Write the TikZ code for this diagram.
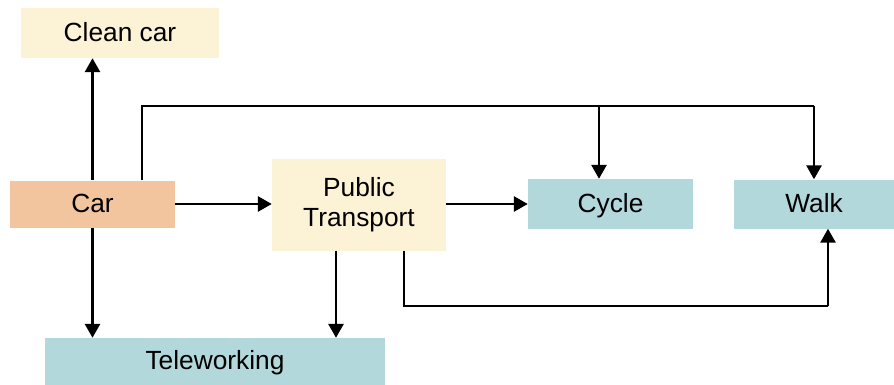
\documentclass[tikz,border=0pt]{standalone}
\usepackage{fontspec}
\setmainfont{Liberation Sans}
\usetikzlibrary{arrows.meta}

\definecolor{cream}{HTML}{FCF2D6}
\definecolor{peach}{HTML}{F2C59E}
\definecolor{teal}{HTML}{B2D8DC}

\begin{document}
\begin{tikzpicture}[node distance=100pt,
        box/.style={rectangle, inner sep=0pt, font=\fontsize{26.3}{30}\selectfont, align=center},
        oneline/.style={box, text height=18.9pt, text depth=2.6pt},
        arr/.style={-{Triangle[length=14pt,width=15pt]}, line width=2.8pt},
        route/.style={line width=1.9pt}]
        \useasboundingbox (0,0) rectangle (894pt,-385pt);

        \node[oneline, fill=peach, minimum width=165pt, minimum height=47pt] (car) at (92.5pt,-204pt) {Car};
        \node[oneline, fill=cream, minimum width=198pt, minimum height=50pt, above of=car, xshift=27.5pt, yshift=71pt] (cleancar) {Clean car};
        \node[box, fill=cream, minimum width=174pt, minimum height=92pt, right of=car, xshift=166.5pt, yshift=-0.5pt] (transport) {Public\\Transport};
        \node[oneline, fill=teal, minimum width=165pt, minimum height=50pt, right of=transport, xshift=151.5pt, yshift=0.5pt] (cycle) {Cycle};
        \node[oneline, fill=teal, minimum width=160pt, minimum height=49pt, right of=cycle, xshift=103.5pt] (walk) {Walk};
        \node[oneline, fill=teal, minimum width=340pt, minimum height=47pt, below of=car, xshift=122.5pt, yshift=-57.5pt] (telework) {Teleworking};

        \coordinate (over) at ([yshift=73pt]walk.north);
        \coordinate (under) at ([xshift=14pt, yshift=-77pt]walk.south);

        \draw[arr] (car.north) -- (car.north |- cleancar.south);
        \draw[arr] (car.south) -- (car.south |- telework.north);
        \draw[arr] (car.east) -- (car.east -| transport.west);
        \draw[arr] (transport.east |- cycle) -- (cycle.west);
        \draw[arr] ([xshift=-23pt]transport.south) -- ([xshift=-23pt]transport.south |- telework.north);

        \draw[route] ([xshift=49.5pt]car.north) |- (over);
        \draw[arr] (over) -- (walk.north);
        \draw[arr] ([xshift=-11.5pt]cycle.north |- over) -- ([xshift=-11.5pt]cycle.north);

        \draw[route] ([xshift=45pt]transport.south) |- (under);
        \draw[arr] (under) -- (under |- walk.south);
    \end{tikzpicture}
\end{document}
